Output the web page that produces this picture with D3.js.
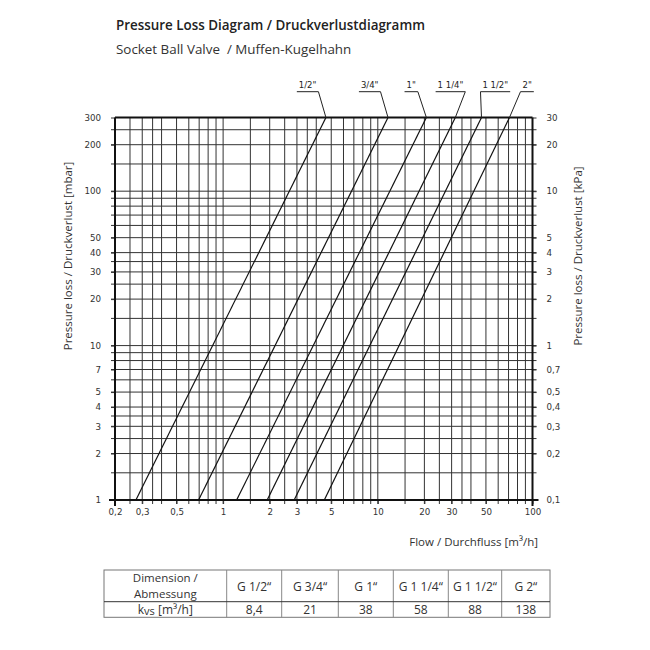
<!DOCTYPE html>
<html><head><meta charset="utf-8">
<script src="https://cdn.jsdelivr.net/npm/d3@7"></script>
<style>body{margin:0;background:#fff}</style>
</head><body>
<svg id="c" width="650" height="650" xmlns="http://www.w3.org/2000/svg"></svg>
<script>
// ---- data ----
const sizes = ['1/2"', '3/4"', '1"', '1 1/4"', '1 1/2"', '2"'];
const flowAt1mbar = [0.273, 0.694, 1.223, 1.927, 2.88, 4.51];
const flowAt300mbar = [4.62, 11.64, 20.6, 31.7, 46.8, 71.0];
const gridFlows = [0.25,0.3,0.35,0.4,0.5,0.6,0.7,0.8,0.9,1,1.5,2,2.5,3,3.5,4,5,6,7,8,9,10,15,20,25,30,35,40,50,60,70,80,90];
const gridPressures = [1.5,2,2.5,3,3.5,4,5,6,7,8,9,10,15,20,25,30,35,40,50,60,70,80,90,100,150,200,250];
const flowTicks = [0.2,0.3,0.5,1,2,3,5,10,20,30,50,100];
const flowTickLabels = ['0,2','0,3','0,5','1','2','3','5','10','20','30','50','100'];
const mbarTicks = [1,2,3,4,5,7,10,20,30,40,50,100,200,300];
const mbarTickLabels = ['1','2','3','4','5','7','10','20','30','40','50','100','200','300'];
const kpaTickLabels = ['0,1','0,2','0,3','0,4','0,5','0,7','1','2','3','4','5','10','20','30'];
const tableDims = ['G 1/2“', 'G 3/4“', 'G 1“', 'G 1 1/4“', 'G 1 1/2“', 'G 2“'];
const tableKvs = ['8,4', '21', '38', '58', '88', '138'];

// ---- layout ----
const svg = d3.select('#c');
const X0 = 115, X1 = 532.5, Y0 = 500, Y1 = 117.5;
const x = d3.scaleLog().domain([0.2, 100]).range([X0, X1]);
const y = d3.scaleLog().domain([1, 300]).range([Y0, Y1]);
const sans = "'Open Sans', 'Noto Sans', sans-serif";
const tickFont = "'DejaVu Sans', sans-serif";

// titles
svg.append('text').attr('x', 116).attr('y', 29.5)
  .attr('font-family', sans).attr('font-weight', 600).attr('font-size', 13.4)
  .attr('fill', '#222').text('Pressure Loss Diagram / Druckverlustdiagramm');
svg.append('text').attr('x', 116).attr('y', 53.5).style('white-space', 'pre')
  .attr('font-family', sans).attr('font-size', 13.4)
  .attr('fill', '#333').text('Socket Ball Valve  / Muffen-Kugelhahn');

// grid
const g = svg.append('g');
g.selectAll('line.v').data(gridFlows).join('line').attr('class', 'v')
  .attr('x1', d => x(d)).attr('x2', d => x(d)).attr('y1', Y1).attr('y2', Y0 + 4)
  .attr('stroke', '#333').attr('stroke-width', 1);
g.selectAll('line.h').data(gridPressures).join('line').attr('class', 'h')
  .attr('y1', d => y(d)).attr('y2', d => y(d)).attr('x1', X0 - 4).attr('x2', X1 + 4)
  .attr('stroke', '#333').attr('stroke-width', 1);

// axes (frame)
const fmt = (arr, lab) => d => lab[arr.indexOf(d)];
const ax = svg.append('g').attr('transform', `translate(0,${Y0})`)
  .call(d3.axisBottom(x).tickValues(flowTicks).tickFormat(fmt(flowTicks, flowTickLabels)).tickSize(4).tickPadding(5));
const al = svg.append('g').attr('transform', `translate(${X0},0)`)
  .call(d3.axisLeft(y).tickValues(mbarTicks).tickFormat(fmt(mbarTicks, mbarTickLabels)).tickSize(4).tickPadding(10));
const ar = svg.append('g').attr('transform', `translate(${X1},0)`)
  .call(d3.axisRight(y).tickValues(mbarTicks).tickFormat(fmt(mbarTicks, kpaTickLabels)).tickSize(4).tickPadding(10));
[ax, al, ar].forEach(a => {
  a.select('.domain').remove();
  a.selectAll('.tick line').attr('stroke', '#333');
  a.selectAll('.tick text').attr('font-family', tickFont).attr('font-size', 8.7).attr('fill', '#333');
});
ar.selectAll('.tick text').attr('x', 14);
// frame lines
const frame = svg.append('g').attr('stroke', '#111').attr('stroke-width', 2);
frame.append('line').attr('x1', X0 - 6).attr('x2', X1 + 6).attr('y1', Y0).attr('y2', Y0);
frame.append('line').attr('x1', X0).attr('x2', X1).attr('y1', Y1).attr('y2', Y1);
frame.append('line').attr('x1', X0).attr('x2', X0).attr('y1', Y1).attr('y2', Y0 + 6);
frame.append('line').attr('x1', X1).attr('x2', X1).attr('y1', Y1).attr('y2', Y0 + 6);

// axis titles
svg.append('text').attr('transform', `translate(72,256) rotate(-90)`).attr('text-anchor', 'middle')
  .attr('font-family', sans).attr('font-size', 11.5).attr('fill', '#333')
  .text('Pressure loss / Druckverlust [mbar]');
svg.append('text').attr('transform', `translate(582,256) rotate(-90)`).attr('text-anchor', 'middle')
  .attr('font-family', sans).attr('font-size', 11.5).attr('fill', '#333')
  .text('Pressure loss / Druckverlust [kPa]');
svg.append('text').attr('x', 538).attr('y', 546).attr('text-anchor', 'end')
  .attr('font-family', sans).attr('font-size', 11.5).attr('fill', '#333')
  .text('Flow / Durchfluss [m³/h]');

// characteristic lines
const lines = svg.append('g');
sizes.forEach((s, i) => {
  lines.append('line')
    .attr('x1', x(flowAt1mbar[i])).attr('y1', y(1))
    .attr('x2', x(flowAt300mbar[i])).attr('y2', y(300))
    .attr('stroke', '#111').attr('stroke-width', 1.2);
});

// leader labels
const leaderDx = [-7.5, -7.5, -8.5, 10, -1, 11];
const leaderSide = ['r', 'r', 'r', 'r', 'l', 'l'];
const UY = 91.7;
sizes.forEach((s, i) => {
  const tx = x(flowAt300mbar[i]);
  const ax_ = tx + leaderDx[i];
  const t = svg.append('text').attr('font-family', tickFont).attr('font-size', 8.5)
    .attr('fill', '#222').attr('y', UY - 4).text(s);
  const w = t.node().getComputedTextLength();
  let ulx1, ulx2;
  if (leaderSide[i] === 'r') { ulx2 = ax_; ulx1 = ax_ - w - 4; }
  else { ulx1 = ax_; ulx2 = ax_ + w + 4; }
  t.attr('x', (ulx1 + ulx2) / 2).attr('text-anchor', 'middle');
  svg.append('line').attr('x1', ulx1).attr('x2', ulx2).attr('y1', UY).attr('y2', UY)
    .attr('stroke', '#222').attr('stroke-width', 1);
  svg.append('line').attr('x1', ax_).attr('y1', UY).attr('x2', tx).attr('y2', Y1)
    .attr('stroke', '#222').attr('stroke-width', 1);
});

// table
const colEdges = [104, 226.7, 281.7, 338.3, 393.3, 448.3, 501.7, 550];
const TY0 = 570, TY1 = 601.7, TY2 = 617.3;
const tb = svg.append('g');
tb.append('rect').attr('x', colEdges[0]).attr('y', TY0).attr('width', colEdges[7] - colEdges[0]).attr('height', TY2 - TY0)
  .attr('fill', 'none').attr('stroke', '#777').attr('stroke-width', 1);
tb.selectAll('line.c').data(colEdges.slice(1, 7)).join('line')
  .attr('x1', d => d).attr('x2', d => d).attr('y1', TY0).attr('y2', TY2).attr('stroke', '#888');
tb.append('line').attr('x1', colEdges[0]).attr('x2', colEdges[7]).attr('y1', TY1).attr('y2', TY1).attr('stroke', '#333');
const tf = (xx, yy, txt, fs) => tb.append('text').attr('x', xx).attr('y', yy).attr('text-anchor', 'middle')
  .attr('font-family', sans).attr('font-size', fs || 12).attr('fill', '#333').text(txt);
const c0 = (colEdges[0] + colEdges[1]) / 2;
tf(c0, 581.5, 'Dimension /', 11.5);
tf(c0, 597.5, 'Abmessung', 11.5);
const k = tb.append('text').attr('x', c0).attr('y', 613.5).attr('text-anchor', 'middle')
  .attr('font-family', sans).attr('font-size', 12).attr('fill', '#333');
k.append('tspan').text('k');
k.append('tspan').attr('font-size', 11).attr('dy', 1.5).text('vs');
k.append('tspan').attr('dy', -1.5).text(' [m³/h]');
tableDims.forEach((d, i) => {
  const cx = (colEdges[i + 1] + colEdges[i + 2]) / 2;
  tf(cx, 590.5, d);
  tf(cx, 613.5, tableKvs[i]);
});
</script>
</body></html>
